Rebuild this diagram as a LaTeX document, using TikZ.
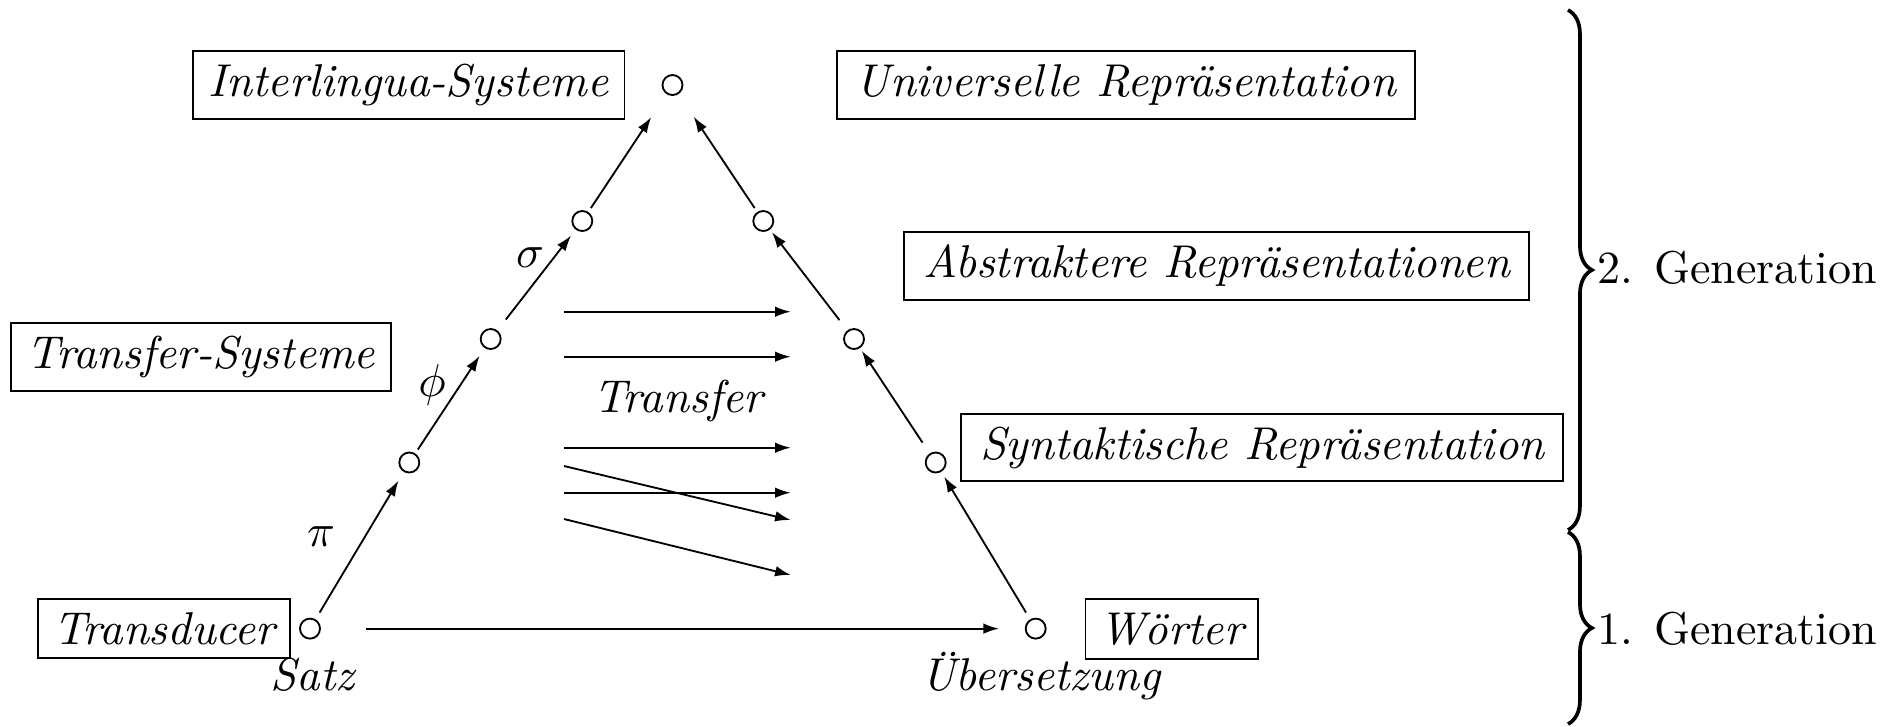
\documentclass[tikz,border=0pt]{standalone}
\usetikzlibrary{arrows.meta,decorations.pathreplacing}
\begin{document}
\begin{tikzpicture}[x=0.21739pt,y=-0.21739pt,
  dot/.style={circle,draw,inner sep=0pt,minimum size=4.35pt},
  lbox/.style={draw,inner sep=0pt,font=\itshape},
  lab/.style={inner sep=0pt,font=\itshape},
  greek/.style={inner sep=0pt},
  arr/.style={-{Latex[length=3.4pt,width=2.3pt]}},
  gen/.style={inner sep=0pt,anchor=base west},
  brc/.style={decorate,decoration={brace,amplitude=5.2pt},line width=0.8pt}]
\useasboundingbox (0,0) rectangle (1898,726);

% levels of the triangle: source side (left), target side (right)
\node[dot] (top)  at (672.5,85)  {};
\node[dot] (lsig) at (582.3,221) {};
\node[dot] (lphi) at (490.7,339) {};
\node[dot] (lpi)  at (409.3,462.5) {};
\node[dot] (satz) at (310,628.6) {};
\node[dot] (rsig) at (763.3,221) {};
\node[dot] (rphi) at (854,339) {};
\node[dot] (rpi)  at (935.7,462.5) {};
\node[dot] (ueb)  at (1035.7,628.6) {};

% analysis steps upwards
\draw[arr,shorten <=1.7pt,shorten >=2.2pt] (satz) -- (lpi);
\draw[arr,shorten <=1pt,shorten >=2pt]     (lpi)  -- (lphi);
\draw[arr,shorten <=3pt,shorten >=1.6pt]   (lphi) -- (lsig);
\draw[arr,shorten <=1pt,shorten >=6pt]     (lsig) -- (top);
% generation steps on the target side
\draw[arr,shorten <=1.7pt,shorten >=1.2pt] (ueb)  -- (rpi);
\draw[arr,shorten <=2.8pt,shorten >=0.7pt] (rpi)  -- (rphi);
\draw[arr,shorten <=2.8pt,shorten >=0.7pt] (rphi) -- (rsig);
\draw[arr,shorten <=1pt,shorten >=5.9pt]   (rsig) -- (top);
% direct word-to-word translation
\draw[arr,shorten <=9.8pt,shorten >=5.6pt] (satz) -- (ueb);

\node[greek] (pilab)  at (321,537) {$\pi$};
\node[greek] (philab) at (432,385) {$\phi$};
\node[greek] (siglab) at (530,258) {$\sigma$};

% transfer arrows
\coordinate (ta1) at (564,311.7); \coordinate (tb1) at (790.7,311.7);
\coordinate (ta2) at (564,356.7); \coordinate (tb2) at (790.7,356.7);
\coordinate (ta3) at (564,447.7); \coordinate (tb3) at (790.7,447.7);
\coordinate (ta4) at (564,492.7); \coordinate (tb4) at (790.7,492.7);
\coordinate (ta5) at (564,466);   \coordinate (tb5) at (790.7,520);
\coordinate (ta6) at (564,519);   \coordinate (tb6) at (790.7,575);
\foreach \i in {1,...,6} \draw[arr] (ta\i) -- (tb\i);
\node[lab,anchor=base] (transfer) at (678,412.7) {Transfer};

% framed labels
\node[lbox,minimum width=93.9pt,minimum height=14.85pt] (interl) at (408.6,84.9) {Interlingua-Systeme};
\node[lbox,minimum width=125.5pt,minimum height=14.85pt] (univ) at (1126,84.9) {Universelle Repräsentation};
\node[lbox,minimum width=136pt,minimum height=14.85pt] (abstr) at (1216.5,265.9) {Abstraktere Repräsentationen};
\node[lbox,minimum width=82.7pt,minimum height=14.8pt] (transys) at (200.9,356.7) {Transfer-Systeme};
\node[lbox,minimum width=130.8pt,minimum height=14.6pt] (synt) at (1262.2,447.5) {Syntaktische Repräsentation};
\node[lbox,minimum width=54.7pt,minimum height=12.8pt] (transd) at (164.2,628.8) {Transducer};
\node[lbox,minimum width=37.5pt,minimum height=13pt] (woerter) at (1171.7,629) {Wörter};

\node[lab,anchor=base] (satzlab) at (312.5,690) {Satz};
\node[lab,anchor=base] (ueblab) at (1040.7,690) {Übersetzung};

% generations
\coordinate (b2a) at (1568,10);  \coordinate (b2b) at (1568,530);
\coordinate (b1a) at (1568,532); \coordinate (b1b) at (1568,724);
\draw[brc] (b2a) -- (b2b);
\draw[brc] (b1a) -- (b1b);
\node[gen] (gen2) at (1597,283) {2. Generation};
\node[gen] (gen1) at (1597,644) {1. Generation};
\end{tikzpicture}
\end{document}
